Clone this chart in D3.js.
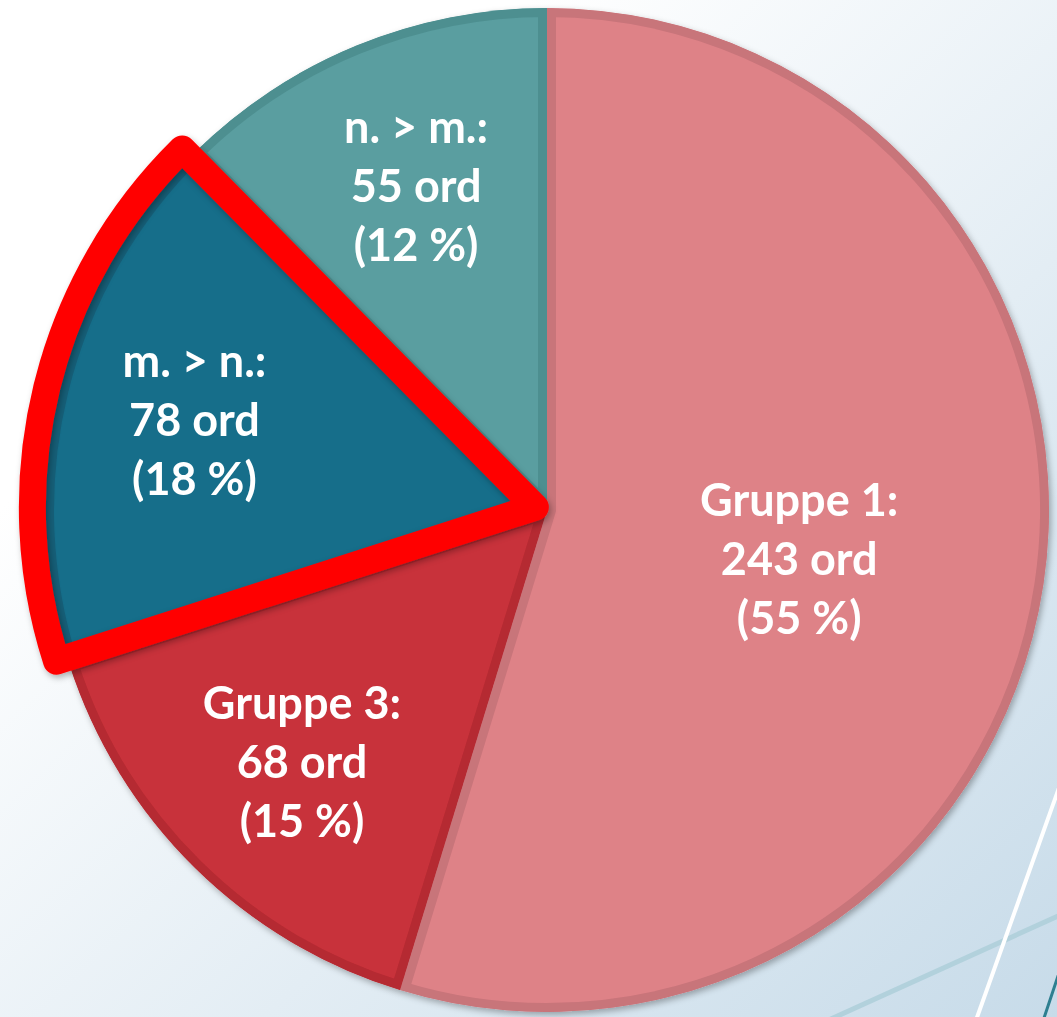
<!DOCTYPE html>
<html>
<head>
<meta charset="utf-8">
<script src="https://cdn.jsdelivr.net/npm/d3@7"></script>
<style>
  html, body { margin: 0; padding: 0; overflow: hidden; }
  svg { display: block; }
</style>
</head>
<body>
<svg id="chart" width="1057" height="1017"></svg>
<script>
// data
var names = ["Gruppe 1:", "Gruppe 3:", "m. > n.:", "n. > m.:"];
var counts = [243, 68, 78, 55];
var pcts = [55, 15, 18, 12];
var highlighted = "m. > n.:";

// looks
var fills = ["#DE8287", "#C8323A", "#176E8A", "#5A9EA0"];
var edges = ["#C8747A", "#B52A33", "#135F78", "#4E8F90"];
var labelR = [255, 349, 363, 345];
var labelDy = [10, 2, -5, -6];

var W = 1057, H = 1017;
var cx = 547, cy = 510, R = 502;

var svg = d3.select("#chart");
var defs = svg.append("defs");

var bg = defs.append("linearGradient").attr("id", "bg")
    .attr("x1", "0").attr("y1", "0").attr("x2", "1").attr("y2", "1");
bg.append("stop").attr("offset", "0.25").attr("stop-color", "#ffffff");
bg.append("stop").attr("offset", "1").attr("stop-color", "#C7DBE9");

var sh = defs.append("filter").attr("id", "shadow")
    .attr("x", "-10%").attr("y", "-10%").attr("width", "120%").attr("height", "120%");
sh.append("feDropShadow").attr("dx", 2).attr("dy", 3).attr("stdDeviation", 3)
    .attr("flood-color", "#000").attr("flood-opacity", 0.3);

svg.append("rect").attr("width", W).attr("height", H).style("fill", "url(#bg)");

// decorative lines bottom right
svg.append("line").attr("x1", 1100).attr("y1", 897).attr("x2", 800).attr("y2", 1033)
    .style("stroke", "#B2D1DC").style("stroke-width", 5);
svg.append("line").attr("x1", 1080).attr("y1", 729).attr("x2", 970).attr("y2", 1037)
    .style("stroke", "#ffffff").style("stroke-width", 4);
svg.append("line").attr("x1", 1070).attr("y1", 940).attr("x2", 1040).attr("y2", 1030)
    .style("stroke", "#2E7F90").style("stroke-width", 3);

var pie = d3.pie().sort(null).startAngle(0).endAngle(2 * Math.PI);
var arcs = pie(counts);
var arc = d3.arc().innerRadius(0).outerRadius(R);

var g = svg.append("g").attr("transform", "translate(" + cx + "," + cy + ")");

arcs.forEach(function(a, i) {
  defs.append("clipPath").attr("id", "clip" + i)
      .append("path").attr("d", arc(a));
});

g.append("g").attr("filter", "url(#shadow)")
  .selectAll("path.slice").data(arcs).enter().append("path")
    .attr("class", "slice")
    .attr("d", arc)
    .attr("clip-path", function(d, i) { return "url(#clip" + i + ")"; })
    .style("fill", function(d, i) { return fills[i]; })
    .style("stroke", function(d, i) { return edges[i]; })
    .style("stroke-width", 18);

// red outline round highlighted slice, pulled out a bit
var hi = names.indexOf(highlighted);
var ha = arcs[hi];
var mid = (ha.startAngle + ha.endAngle) / 2;
var off = 12;
g.append("path")
    .attr("d", d3.arc().innerRadius(0).outerRadius(503)(ha))
    .attr("transform", "translate(" + (off * Math.sin(mid)) + "," + (-off * Math.cos(mid)) + ")")
    .attr("filter", "url(#shadow)")
    .style("fill", "none")
    .style("stroke", "#FF0000")
    .style("stroke-width", 27)
    .style("stroke-linejoin", "round");

// labels
arcs.forEach(function(a, i) {
  var c = d3.arc().innerRadius(labelR[i]).outerRadius(labelR[i]).centroid(a);
  var lines = [names[i], counts[i] + " ord", "(" + pcts[i] + " %)"];
  var t = g.append("text")
      .attr("text-anchor", "middle")
      .style("font-family", "Lato, 'Open Sans', sans-serif")
      .style("font-weight", "bold")
      .style("font-size", "45px")
      .style("fill", "#ffffff");
  lines.forEach(function(s, k) {
    t.append("tspan")
      .attr("x", c[0])
      .attr("y", c[1] + labelDy[i] + (k - 1) * 59)
      .attr("dominant-baseline", "central")
      .text(s);
  });
});
</script>
</body>
</html>
